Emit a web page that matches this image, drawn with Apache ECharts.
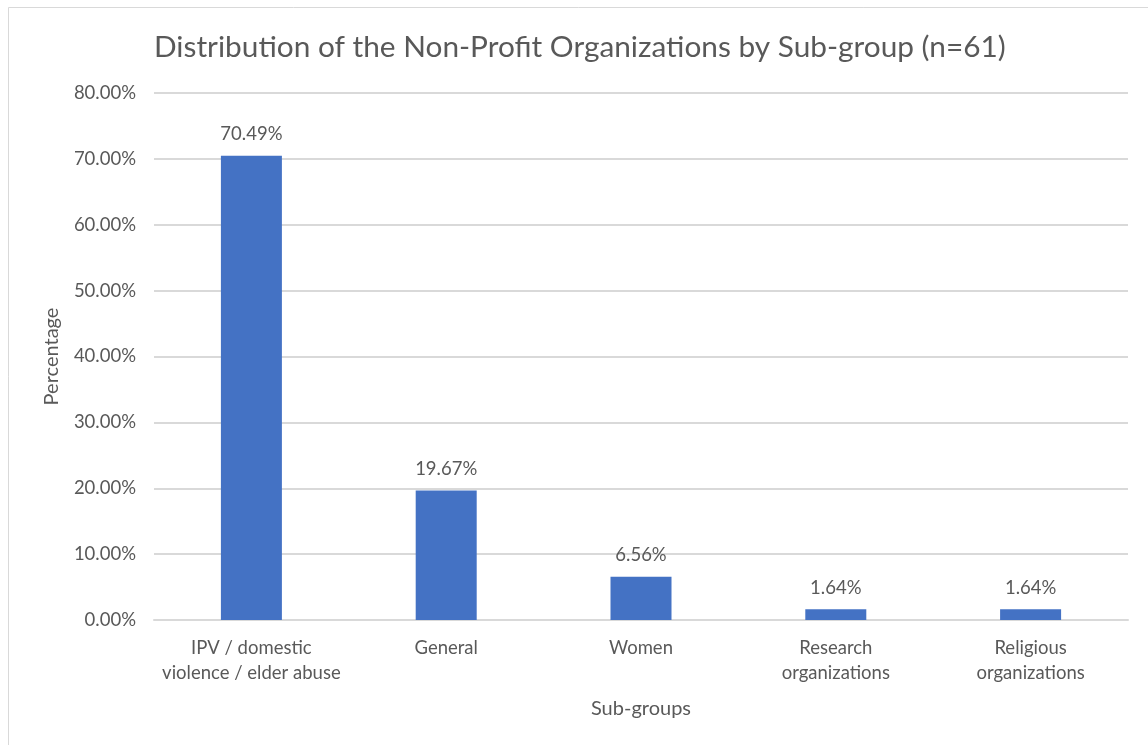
<!DOCTYPE html>
<html>
<head>
<meta charset="utf-8">
<script src="https://cdn.jsdelivr.net/npm/echarts@6/dist/echarts.min.js"></script>
<style>
html, body { margin: 0; padding: 0; background: #fff; }
#main { width: 1148px; height: 745px; }
</style>
</head>
<body>
<div id="main"></div>
<script>
var categories = ['IPV / domestic\nviolence / elder abuse', 'General', 'Women', 'Research\norganizations', 'Religious\norganizations'];
var percentages = [70.49, 19.67, 6.56, 1.64, 1.64];
var yTicks = { min: 0, max: 80, interval: 10 };

var myChart = echarts.init(document.getElementById('main'));
var font = 'Lato, "Open Sans", sans-serif';

var option = {
    backgroundColor: '#ffffff',
    textStyle: { fontFamily: font },
    graphic: [{
        type: 'rect',
        shape: { x: 8.5, y: 7.5, width: 1200, height: 800 },
        style: { fill: 'none', stroke: '#d9d9d9', lineWidth: 1 }
    }],
    title: {
        text: 'Distribution of the Non-Profit Organizations by Sub-group (n=61)',
        left: 149,
        top: 27,
        textStyle: { color: '#595959', fontSize: 29.8, fontWeight: 'normal', fontFamily: font }
    },
    grid: { left: 154, right: 20, top: 93, bottom: 125, containLabel: false },
    xAxis: {
        type: 'category',
        data: categories,
        name: 'Sub-groups',
        nameLocation: 'middle',
        nameGap: 79,
        nameTextStyle: { color: '#595959', fontSize: 20 },
        axisLine: { lineStyle: { color: '#d9d9d9', width: 2 } },
        axisTick: { show: false },
        axisLabel: { color: '#595959', fontSize: 18.5, margin: 16, lineHeight: 25, interval: 0 }
    },
    yAxis: {
        type: 'value',
        min: yTicks.min,
        max: yTicks.max,
        interval: yTicks.interval,
        name: 'Percentage',
        nameLocation: 'middle',
        nameGap: 92,
        nameTextStyle: { color: '#595959', fontSize: 20 },
        axisLine: { show: false },
        axisTick: { show: false },
        axisLabel: {
            color: '#595959', fontSize: 18.5, margin: 18,
            formatter: function (v) { return v.toFixed(2) + '%'; }
        },
        splitLine: { lineStyle: { color: '#d9d9d9', width: 2 } }
    },
    series: [{
        type: 'bar',
        data: percentages,
        barWidth: 61,
        itemStyle: { color: '#4472c4' },
        label: {
            show: true,
            position: 'top',
            distance: 12,
            color: '#595959',
            fontSize: 18.5,
            formatter: function (p) { return p.value.toFixed(2) + '%'; }
        }
    }]
};
myChart.setOption(option);
</script>
</body>
</html>
